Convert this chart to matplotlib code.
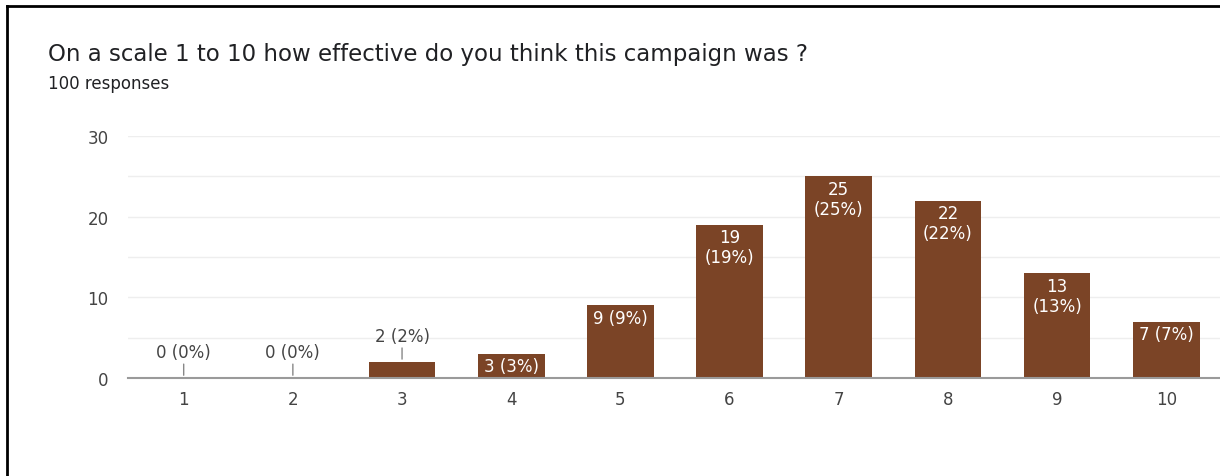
import matplotlib.pyplot as plt
from matplotlib.lines import Line2D

# survey data
ratings = ['1', '2', '3', '4', '5', '6', '7', '8', '9', '10']
counts = [0, 0, 2, 3, 9, 19, 25, 22, 13, 7]
total = 100
title = 'On a scale 1 to 10 how effective do you think this campaign was ?'
subtitle = '100 responses'
yticks = [0, 10, 20, 30]

bar_color = '#7b4426'
text_gray = '#444444'
font = 'DejaVu Sans'

fig = plt.figure(figsize=(12.2, 4.77), dpi=100)
fig.patch.set_facecolor('white')

# frame border (left + top only, like the screenshot)
fig.add_artist(Line2D([7 / 1220, 7 / 1220], [0, 1 - 7 / 477], color='black', lw=2))
fig.add_artist(Line2D([7 / 1220, 1], [1 - 7 / 477, 1 - 7 / 477], color='black', lw=2))

fig.text(48 / 1220, 1 - 55 / 477, title, fontsize=16.5, family=font, color='#202124', va='center')
fig.text(48 / 1220, 1 - 84 / 477, subtitle, fontsize=12, family=font, color='#202124', va='center')

ax = fig.add_axes([128 / 1220, (477 - 379) / 477, (1222 - 128) / 1220, (379 - 137) / 477])
x = list(range(1, len(ratings) + 1))
ax.bar(x, counts, width=0.61, color=bar_color, zorder=3)

ax.set_xlim(0.49, 10.51)
ax.set_ylim(0, 30)
ax.set_yticks(yticks)
ax.set_yticks([5, 15, 25], minor=True)
ax.set_xticks(x)
ax.set_xticklabels(ratings)
ax.grid(axis='y', which='both', color='#eeeeee', lw=1, zorder=0)
ax.tick_params(axis='both', which='both', length=0, labelsize=12, colors=text_gray)
ax.tick_params(axis='x', pad=9)
ax.tick_params(axis='y', pad=14)
for lbl in ax.get_xticklabels() + ax.get_yticklabels():
    lbl.set_family(font)
for s in ['top', 'right', 'left']:
    ax.spines[s].set_visible(False)
ax.spines['bottom'].set_color('#9a9a9a')
ax.spines['bottom'].set_linewidth(1.5)
ax.spines['bottom'].set_zorder(4)

for xi, c in zip(x, counts):
    pct = round(100 * c / total)
    if c < 3:
        # outside label with a leader line
        ax.annotate('', xy=(xi, c), xytext=(0, 12), textcoords='offset points',
                    arrowprops=dict(arrowstyle='-', color='#888888', lw=1))
        ax.annotate(f'{c} ({pct}%)', xy=(xi, c), xytext=(0, 12), textcoords='offset points',
                    ha='center', va='bottom', fontsize=12, color=text_gray, family=font)
    else:
        label = f'{c}\n({pct}%)' if c >= 10 else f'{c} ({pct}%)'
        ax.annotate(label, xy=(xi, c), xytext=(0, -2.5), textcoords='offset points',
                    ha='center', va='top', fontsize=12, color='white', family=font,
                    linespacing=1.15, zorder=5)

fig.savefig('out.png', dpi=100, facecolor='white')
